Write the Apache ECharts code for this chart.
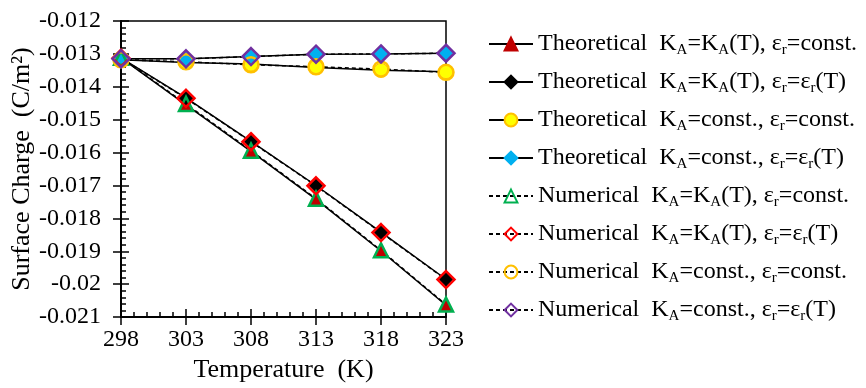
<!DOCTYPE html>
<html>
<head>
<meta charset="utf-8">
<script src="https://cdn.jsdelivr.net/npm/echarts@6/dist/echarts.min.js"></script>
<style>
  html, body { margin: 0; padding: 0; background: #fff; }
  #chart { width: 866px; height: 388px; }
</style>
</head>
<body>
<div id="chart"></div>
<script>
// temperatures (K)
const temps = [298, 303, 308, 313, 318, 323]

// surface charge (C/m2)
const thKaT_erConst = [-0.01312, -0.01455, -0.01596, -0.01742, -0.01899, -0.02064]
const thKaT_erT = [-0.01312, -0.01434, -0.01566, -0.017, -0.01842, -0.01985]
const thKaConst_erConst = [-0.01318, -0.01326, -0.01331, -0.01341, -0.0135, -0.01354]
const thKaConst_erT = [-0.01315, -0.01315, -0.01308, -0.01301, -0.013, -0.01298]

const numKaT_erConst = [-0.01312, -0.01452, -0.01594, -0.0174, -0.01897, -0.02062]
const numKaT_erT = [-0.01313, -0.01435, -0.01567, -0.01701, -0.01843, -0.01986]
const numKaConst_erConst = [-0.01318, -0.01324, -0.01333, -0.01339, -0.01346, -0.01356]
const numKaConst_erT = [-0.01315, -0.01315, -0.01308, -0.01301, -0.013, -0.01298]

// "_X" marks a subscript
const names = [
  'Theoretical  K_A=K_A(T), ε_r=const.',
  'Theoretical  K_A=K_A(T), ε_r=ε_r(T)',
  'Theoretical  K_A=const., ε_r=const.',
  'Theoretical  K_A=const., ε_r=ε_r(T)',
  'Numerical  K_A=K_A(T), ε_r=const.',
  'Numerical  K_A=K_A(T), ε_r=ε_r(T)',
  'Numerical  K_A=const., ε_r=const.',
  'Numerical  K_A=const., ε_r=ε_r(T)',
]

const FONT = "'Liberation Serif', 'Times New Roman', serif"

function pairs(vals) {
  return temps.map((t, i) => [t, vals[i]])
}

function theo(name, vals, symbol, size, fill, border) {
  return {
    name,
    type: 'line',
    data: pairs(vals),
    symbol,
    symbolSize: size,
    lineStyle: { color: '#000', width: 1.5, type: 'solid' },
    itemStyle: { color: fill, borderColor: border, borderWidth: 1, opacity: 1 },
    emphasis: { disabled: true },
  }
}

function numer(name, vals, symbol, size, border) {
  return {
    name,
    type: 'line',
    data: pairs(vals),
    symbol,
    symbolSize: size,
    lineStyle: { color: '#000', width: 1.5, type: [4, 3] },
    itemStyle: { color: 'rgba(255,255,255,0)', borderColor: border, borderWidth: 2.5, opacity: 1 },
    emphasis: { disabled: true },
  }
}

const series = [
  theo(names[0], thKaT_erConst, 'triangle', 12, '#C00000', '#C00000'),
  theo(names[1], thKaT_erT, 'diamond', 14, '#000000', '#000000'),
  theo(names[2], thKaConst_erConst, 'circle', 14, '#FFFF00', '#FFC000'),
  theo(names[3], thKaConst_erT, 'diamond', 14, '#00B0F0', '#00B0F0'),
  numer(names[4], numKaT_erConst, 'triangle', 14, '#00B050'),
  numer(names[5], numKaT_erT, 'diamond', 17, '#FF0000'),
  numer(names[6], numKaConst_erConst, 'circle', 15, '#FFC000'),
  numer(names[7], numKaConst_erT, 'diamond', 17, '#7030A0'),
]

const axisLabelStyle = { color: '#000', fontSize: 24, fontFamily: FONT }
const tickStyle = { color: '#000', width: 1.5 }

const options = {
  animation: false,
  backgroundColor: '#fff',
  grid: {
    left: 121,
    top: 21,
    right: 420,
    bottom: 70,
    show: true,
    borderColor: '#000',
    borderWidth: 1.5,
  },
  legend: {
    orient: 'vertical',
    left: 483,
    top: 27,
    itemWidth: 44,
    itemHeight: 16,
    itemGap: 12,
    data: names,
    formatter: function (name) {
      return '{n|' + name.replace(/_(\S)/g, '}{s|$1}{n|') + '}'
    },
    textStyle: {
      color: '#000',
      fontFamily: FONT,
      rich: {
        n: { fontSize: 24, lineHeight: 28, fontFamily: FONT, color: '#000' },
        s: { fontSize: 15, lineHeight: 12, verticalAlign: 'bottom', fontFamily: FONT, color: '#000' },
      },
    },
  },
  xAxis: [
    {
      type: 'value',
      min: 298,
      max: 323,
      interval: 5,
      name: 'Temperature  (K)',
      nameLocation: 'middle',
      nameGap: 35,
      nameTextStyle: { color: '#000', fontSize: 26, fontFamily: FONT },
      axisLine: { onZero: false, lineStyle: { color: '#000', width: 2 } },
      axisTick: { inside: true, length: 8, lineStyle: tickStyle },
      minorTick: { show: true, splitNumber: 5, length: 5, lineStyle: tickStyle },
      axisLabel: { ...axisLabelStyle, margin: 11 },
      splitLine: { show: false },
    },
    {
      // outer half of the major ticks
      type: 'value',
      min: 298,
      max: 323,
      interval: 5,
      position: 'bottom',
      offset: 0,
      axisLine: { show: false },
      axisTick: { inside: false, length: 8, lineStyle: tickStyle },
      axisLabel: { show: false },
      splitLine: { show: false },
    },
  ],
  yAxis: [
    {
      type: 'value',
      min: -0.021,
      max: -0.012,
      interval: 0.001,
      position: 'left',
      name: 'Surface Charge  (C/m²)',
      nameLocation: 'middle',
      nameGap: 78,
      nameRotate: 90,
      nameTextStyle: { color: '#000', fontSize: 26, fontFamily: FONT },
      axisLine: { onZero: false, lineStyle: { color: '#000', width: 2 } },
      axisTick: { inside: true, length: 8, lineStyle: tickStyle },
      minorTick: { show: true, splitNumber: 5, length: 5, lineStyle: tickStyle },
      axisLabel: { ...axisLabelStyle, margin: 20 },
      splitLine: { show: false },
    },
    {
      type: 'value',
      min: -0.021,
      max: -0.012,
      interval: 0.001,
      position: 'left',
      offset: 0,
      axisLine: { show: false },
      axisTick: { inside: false, length: 8, lineStyle: tickStyle },
      axisLabel: { show: false },
      splitLine: { show: false },
    },
  ],
  series,
}

const chart = echarts.init(document.getElementById('chart'), null, { renderer: 'canvas' })
chart.setOption(options)
</script>
</body>
</html>
